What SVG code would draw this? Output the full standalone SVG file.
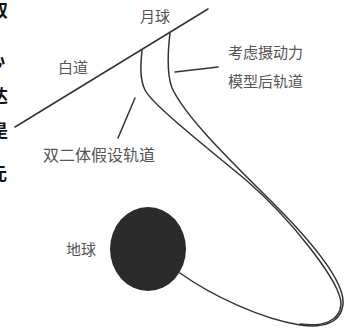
<svg xmlns="http://www.w3.org/2000/svg" width="345" height="329" viewBox="0 0 345 329">
<style>
.lbl{font-family:"Noto Sans CJK SC","Noto Sans",sans-serif;font-size:15px;fill:#555}
.frag{font-family:"Noto Sans CJK SC",sans-serif;font-size:17px;fill:#111;font-weight:bold}
.ln{fill:none;stroke:#333;stroke-width:1.5;stroke-linecap:round;stroke-linejoin:round}
</style>
<rect width="345" height="329" fill="#fff"/>
<g id="page-fragments">
<text class="frag" x="-9" y="17">双</text>
<text class="frag" x="-12" y="66">心</text>
<text class="frag" x="-9" y="102">达</text>
<text class="frag" x="-9" y="137">是</text>
<text class="frag" x="-10" y="180">元</text>
</g>
<g id="connectors">
<path id="baidao-line" class="ln" d="M15,127 L208,9"/>
<path id="orbit-perturbed" class="ln" d="M170,33 C168,50 166,72 172,88 C186,118 232,162 272,202 C312,242 345,282 343,304 C341,324 322,328 300,325 C262,319 212,296 180,273"/>
<path id="orbit-twobody" class="ln" d="M142,50 C141,62 139,78 145,90 C152,104 200,142 246,180 C290,218 341,282 341,304 C340,322 322,327 300,324"/>
<path id="ptr-perturbed" class="ln" d="M175,72 L218,67"/>
<path id="ptr-twobody" class="ln" d="M118,138 L135,98"/>
</g>
<g id="earth">
<ellipse cx="148" cy="249" rx="38" ry="42" fill="#2b2b2b"/>
<text class="lbl" x="66" y="255">地球</text>
</g>
<g id="moon"><text class="lbl" x="140" y="22">月球</text></g>
<g id="baidao"><text class="lbl" x="58" y="73">白道</text></g>
<g id="label-perturbed">
<text class="lbl" x="228" y="58" font-size="16">考虑摄动力</text>
<text class="lbl" x="228" y="87" font-size="16">模型后轨道</text>
</g>
<g id="label-twobody"><text class="lbl" x="43" y="161" style="font-size:16px">双二体假设轨道</text></g>
</svg>
